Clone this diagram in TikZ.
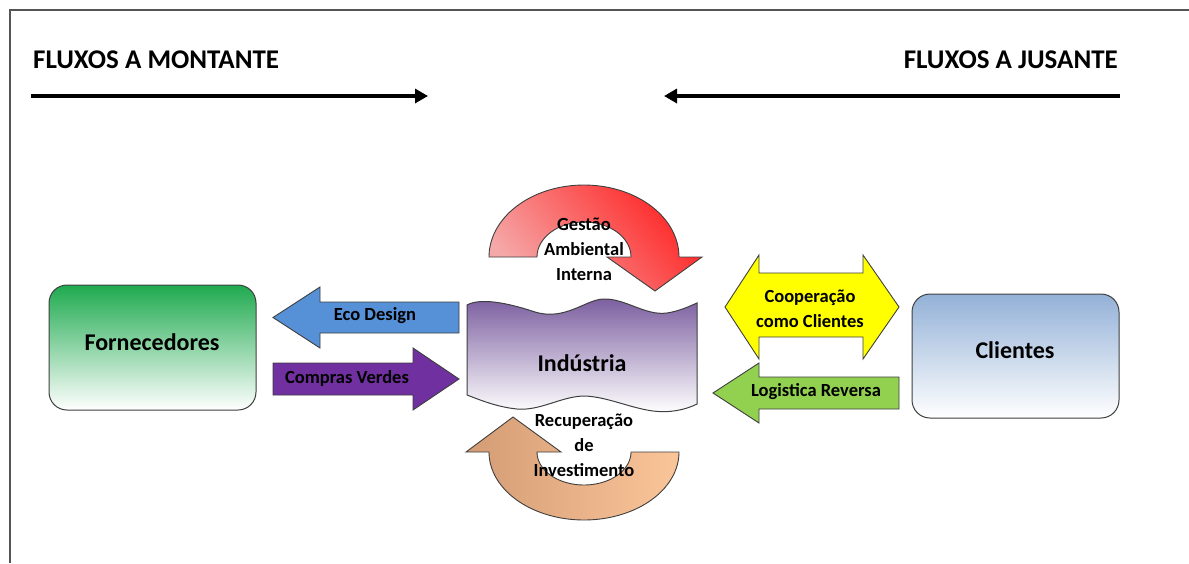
\documentclass[tikz,border=0pt]{standalone}
\usepackage{fontspec}
\setmainfont{Carlito}
\usetikzlibrary{arrows.meta}

\definecolor{framegray}{HTML}{555555}
\definecolor{edgegray}{HTML}{3F3F3F}
\definecolor{supgreen}{HTML}{1FAA4F}
\definecolor{cliblue}{HTML}{93B1D7}
\definecolor{indpurple}{HTML}{7C5FA0}
\definecolor{ecoblue}{HTML}{5690D6}
\definecolor{buypurple}{HTML}{7030A0}
\definecolor{coopyellow}{HTML}{FFFF00}
\definecolor{revgreen}{HTML}{92D050}
\definecolor{gestred}{HTML}{FF2424}
\definecolor{gestpink}{HTML}{F5A8A8}
\definecolor{rectan}{HTML}{D49C74}
\definecolor{recpeach}{HTML}{FBC59A}

\tikzset{
  header/.style={font=\bfseries\fontsize{27}{31}\selectfont, inner sep=0pt},
  flowline/.style={line width=4.5pt, -{Triangle[length=13pt,width=14pt]}},
  bigbox/.style={draw=edgegray, line width=1pt, rounded corners=18pt},
  bigtext/.style={font=\bfseries\fontsize{24}{28}\selectfont, inner sep=0pt},
  blockarrow/.style={draw=edgegray, line width=0.9pt, line join=miter},
  label/.style={font=\bfseries\fontsize{18.5}{25}\selectfont, inner sep=0pt, align=center},
}

\begin{document}
\begin{tikzpicture}[x=1pt, y=-1pt]
\useasboundingbox (0,0) rectangle (1189,563);

% frame
\draw[framegray, line width=1.5pt] (10,563) -- (10,10) -- (1189,10);

% headers and flow directions
\node[header, anchor=base west] (upstream) at (33,68) {FLUXOS A MONTANTE};
\node[header, anchor=base east] (downstream) at (1118,68) {FLUXOS A JUSANTE};
\coordinate (upA) at (31,96);
\coordinate (upB) at (428,96);
\coordinate (dnA) at (1120,96);
\coordinate (dnB) at (664,96);
\draw[flowline] (upA) -- (upB);
\draw[flowline] (dnA) -- (dnB);

% suppliers and clients
\path[bigbox, top color=supgreen, bottom color=white] (49,285) rectangle (256,410);
\node[bigtext] (forn) at (152,342) {Fornecedores};
\path[bigbox, top color=cliblue, bottom color=white] (912,294) rectangle (1119,418);
\node[bigtext] (cli) at (1015,350) {Clientes};

% industry (double wave)
\path[draw=edgegray, line width=1pt, top color=indpurple, bottom color=white]
  (467,305) .. controls (480,298) and (505,302) .. (535,312)
  .. controls (565,321) and (585,300) .. (603,299)
  .. controls (625,298) and (645,316) .. (667,313)
  .. controls (680,311) and (690,306) .. (697,303)
  -- (697,404)
  .. controls (685,410) and (670,413) .. (653,411)
  .. controls (630,408) and (605,396) .. (583,396)
  .. controls (560,397) and (540,411) .. (517,409)
  .. controls (497,407) and (480,400) .. (467,395)
  -- cycle;
\node[bigtext] (ind) at (582,363) {Indústria};

% internal environmental management (circular arrow over the industry)
\path[blockarrow, bottom color=gestpink, top color=gestred, shading angle=-50]
  (489,257) -- plot[domain=180:0, samples=80, variable=\t] ({584+95*cos(\t)}, {257-72*sin(\t)})
  -- (702,257) -- (655,291) -- (607,257) -- (631,257)
  -- plot[domain=0:180, samples=60, variable=\t] ({584+47*cos(\t)}, {257-35*sin(\t)})
  -- cycle;
\node[label] (gest) at (584,249) {Gestão\\Ambiental\\Interna};

% investment recovery (circular arrow under the industry)
\path[blockarrow, left color=rectan, right color=recpeach]
  (679,452) -- plot[domain=0:180, samples=80, variable=\t] ({584+95*cos(\t)}, {452+68*sin(\t)})
  -- (466,452) -- (513,417) -- (561,452) -- (537,452)
  -- plot[domain=180:0, samples=60, variable=\t] ({584+47*cos(\t)}, {452+33*sin(\t)})
  -- cycle;
\node[label] (rec) at (584,445) {Recuperação\\de\\Investimento};

% eco design
\path[blockarrow, fill=ecoblue]
  (459,302) -- (320,302) -- (320,287) -- (273,317.5) -- (320,348) -- (320,333) -- (459,333) -- cycle;
\node[label] (eco) at (375,316) {Eco Design};

% green purchasing
\path[blockarrow, fill=buypurple]
  (273,363) -- (413,363) -- (413,348) -- (459,379) -- (413,410) -- (413,395) -- (273,395) -- cycle;
\node[label] (buy) at (347,378) {Compras Verdes};

% cooperation with clients (double arrow)
\path[blockarrow, fill=coopyellow]
  (725,307) -- (759,255) -- (759,273) -- (863,273) -- (863,255) -- (899,307)
  -- (863,359) -- (863,337) -- (759,337) -- (759,359) -- cycle;
\node[label] (coop) at (810,309) {Cooperação\\como Clientes};

% reverse logistics
\path[blockarrow, fill=revgreen]
  (899,377) -- (759,377) -- (759,363) -- (713,393) -- (759,423) -- (759,409) -- (899,409) -- cycle;
\node[label] (rev) at (816,392) {Logistica Reversa};

\end{tikzpicture}
\end{document}
